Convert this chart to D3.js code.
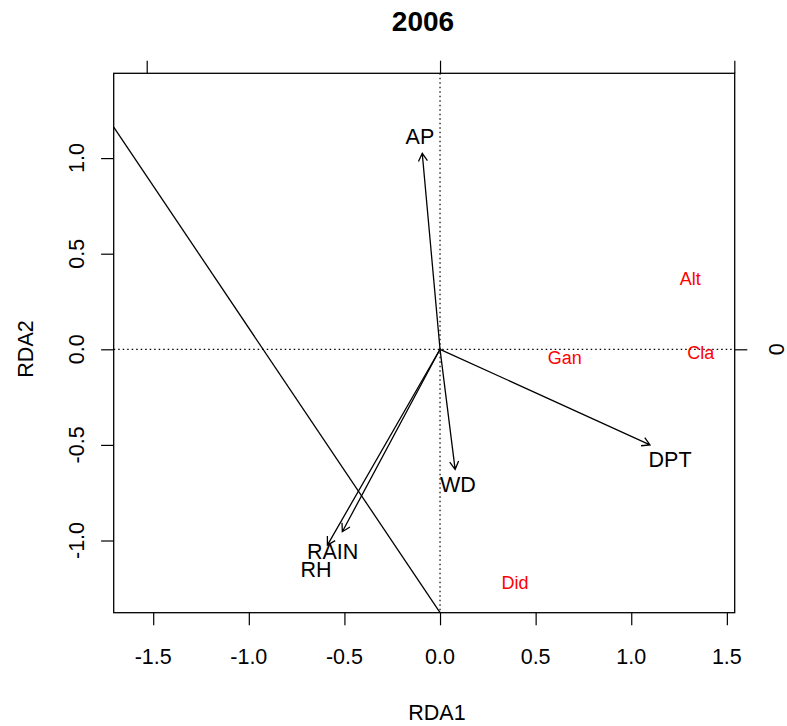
<!DOCTYPE html>
<html>
<head>
<meta charset="utf-8">
<script src="https://cdn.jsdelivr.net/npm/d3@7/dist/d3.min.js"></script>
<style>
  html, body { margin: 0; padding: 0; background: #fff; }
  svg text { font-family: "Liberation Sans", Arial, Helvetica, sans-serif; }
</style>
</head>
<body>
<div id="chart"></div>
<script>
// biplot arrows (environment variables)
const envNames = ['AP', 'DPT', 'WD', 'RAIN', 'RH'];
const envX = [-0.093, 1.098, 0.079, -0.511, -0.589];
const envY = [1.025, -0.500, -0.628, -0.954, -1.024];
// label centres of the arrows
const envLabelX = [-0.105, 1.203, 0.093, -0.562, -0.649];
const envLabelY = [1.115, -0.576, -0.708, -1.059, -1.149];

// species scores (red text)
const spNames = ['Alt', 'Cla', 'Gan', 'Did'];
const spX = [1.308, 1.364, 0.652, 0.392];
const spY = [0.371, -0.019, -0.043, -1.222];

// fitted line  y = a + b * x
const lineA = -1.377;
const lineB = -1.488;

// axes
const xTicks = [-1.5, -1.0, -0.5, 0.0, 0.5, 1.0, 1.5];
const yTicks = [-1.0, -0.5, 0.0, 0.5, 1.0];
const topTicks = [-1.534, 0, 1.539];
const rightTicks = [0];
const rightTickLabels = ['0'];
const xDomain = [-1.7066, 1.541];
const yDomain = [-1.3776, 1.4435];

const width = 787;
const height = 726;
const plot = { left: 113.7, right: 734.7, top: 73.3, bottom: 612.7 };
const font = 21.5;
const tickLen = 12.6;

const svg = d3.select('#chart')
  .append('svg')
  .attr('width', width)
  .attr('height', height)
  .attr('viewBox', `0 0 ${width} ${height}`);

const x = d3.scaleLinear().domain(xDomain).range([plot.left, plot.right]);
const y = d3.scaleLinear().domain(yDomain).range([plot.bottom, plot.top]);

// clip for everything inside the box
svg.append('clipPath')
  .attr('id', 'plot-clip')
  .append('rect')
  .attr('x', plot.left)
  .attr('y', plot.top)
  .attr('width', plot.right - plot.left)
  .attr('height', plot.bottom - plot.top);

const fmt = d => d.toFixed(1);

// axes
const styleAxis = g => {
  g.select('.domain').remove();
  g.selectAll('.tick line').attr('stroke', '#000').attr('stroke-width', 1.2);
  g.selectAll('.tick text').remove();
};

svg.append('g')
  .attr('transform', `translate(0, ${plot.bottom})`)
  .call(d3.axisBottom(x).tickValues(xTicks).tickSize(tickLen))
  .call(styleAxis);

svg.append('g')
  .attr('transform', `translate(${plot.left}, 0)`)
  .call(d3.axisLeft(y).tickValues(yTicks).tickSize(tickLen))
  .call(styleAxis);

svg.append('g')
  .attr('transform', `translate(0, ${plot.top})`)
  .call(d3.axisTop(x).tickValues(topTicks).tickSize(tickLen))
  .call(styleAxis);

svg.append('g')
  .attr('transform', `translate(${plot.right}, 0)`)
  .call(d3.axisRight(y).tickValues(rightTicks).tickSize(tickLen))
  .call(styleAxis);

// tick labels
svg.append('g')
  .selectAll('text')
  .data(xTicks)
  .join('text')
  .attr('x', d => x(d))
  .attr('y', 663.5)
  .attr('text-anchor', 'middle')
  .attr('font-size', font)
  .text(fmt);

svg.append('g')
  .selectAll('text')
  .data(yTicks)
  .join('text')
  .attr('transform', d => `translate(84, ${y(d)}) rotate(-90)`)
  .attr('text-anchor', 'middle')
  .attr('font-size', font)
  .text(fmt);

svg.append('g')
  .selectAll('text')
  .data(rightTicks)
  .join('text')
  .attr('transform', d => `translate(784, ${y(d)}) rotate(-90)`)
  .attr('text-anchor', 'middle')
  .attr('font-size', font)
  .text((d, i) => rightTickLabels[i]);

// titles
svg.append('text')
  .attr('x', 423)
  .attr('y', 31)
  .attr('text-anchor', 'middle')
  .attr('font-size', 28)
  .attr('font-weight', 'bold')
  .text('2006');

svg.append('text')
  .attr('x', 437)
  .attr('y', 720)
  .attr('text-anchor', 'middle')
  .attr('font-size', font)
  .text('RDA1');

svg.append('text')
  .attr('transform', 'translate(33, 349) rotate(-90)')
  .attr('text-anchor', 'middle')
  .attr('font-size', font)
  .text('RDA2');

const inner = svg.append('g').attr('clip-path', 'url(#plot-clip)');

// dotted zero lines
inner.append('line')
  .attr('x1', plot.left).attr('x2', plot.right)
  .attr('y1', y(0)).attr('y2', y(0))
  .attr('stroke', '#000').attr('stroke-width', 1.2)
  .attr('stroke-dasharray', '1.5,3');

inner.append('line')
  .attr('x1', x(0)).attr('x2', x(0))
  .attr('y1', plot.top).attr('y2', plot.bottom)
  .attr('stroke', '#000').attr('stroke-width', 1.2)
  .attr('stroke-dasharray', '1.5,3');

// fitted line across the plot
inner.append('line')
  .attr('x1', x(xDomain[0])).attr('y1', y(lineA + lineB * xDomain[0]))
  .attr('x2', x(xDomain[1])).attr('y2', y(lineA + lineB * xDomain[1]))
  .attr('stroke', '#000').attr('stroke-width', 1.3);

// arrows
const headLen = 9;
const headAng = Math.PI / 6;
const arrowPath = i => {
  const x0 = x(0), y0 = y(0);
  const x1 = x(envX[i]), y1 = y(envY[i]);
  const a = Math.atan2(y1 - y0, x1 - x0);
  const p = d3.path();
  p.moveTo(x0, y0);
  p.lineTo(x1, y1);
  p.moveTo(x1 - headLen * Math.cos(a - headAng), y1 - headLen * Math.sin(a - headAng));
  p.lineTo(x1, y1);
  p.lineTo(x1 - headLen * Math.cos(a + headAng), y1 - headLen * Math.sin(a + headAng));
  return p.toString();
};

inner.append('g')
  .selectAll('path')
  .data(envNames)
  .join('path')
  .attr('d', (d, i) => arrowPath(i))
  .attr('fill', 'none')
  .attr('stroke', '#000')
  .attr('stroke-width', 1.3);

inner.append('g')
  .selectAll('text')
  .data(envNames)
  .join('text')
  .attr('x', (d, i) => x(envLabelX[i]))
  .attr('y', (d, i) => y(envLabelY[i]) + font * 0.358)
  .attr('text-anchor', 'middle')
  .attr('font-size', font)
  .attr('fill', '#000')
  .text(d => d);

// species
const spFont = 18;
inner.append('g')
  .selectAll('text')
  .data(spNames)
  .join('text')
  .attr('x', (d, i) => x(spX[i]))
  .attr('y', (d, i) => y(spY[i]) + spFont * 0.358)
  .attr('text-anchor', 'middle')
  .attr('font-size', spFont)
  .attr('fill', '#ff0000')
  .text(d => d);

// box
svg.append('rect')
  .attr('x', plot.left)
  .attr('y', plot.top)
  .attr('width', plot.right - plot.left)
  .attr('height', plot.bottom - plot.top)
  .attr('fill', 'none')
  .attr('stroke', '#000')
  .attr('stroke-width', 1.3);
</script>
</body>
</html>
